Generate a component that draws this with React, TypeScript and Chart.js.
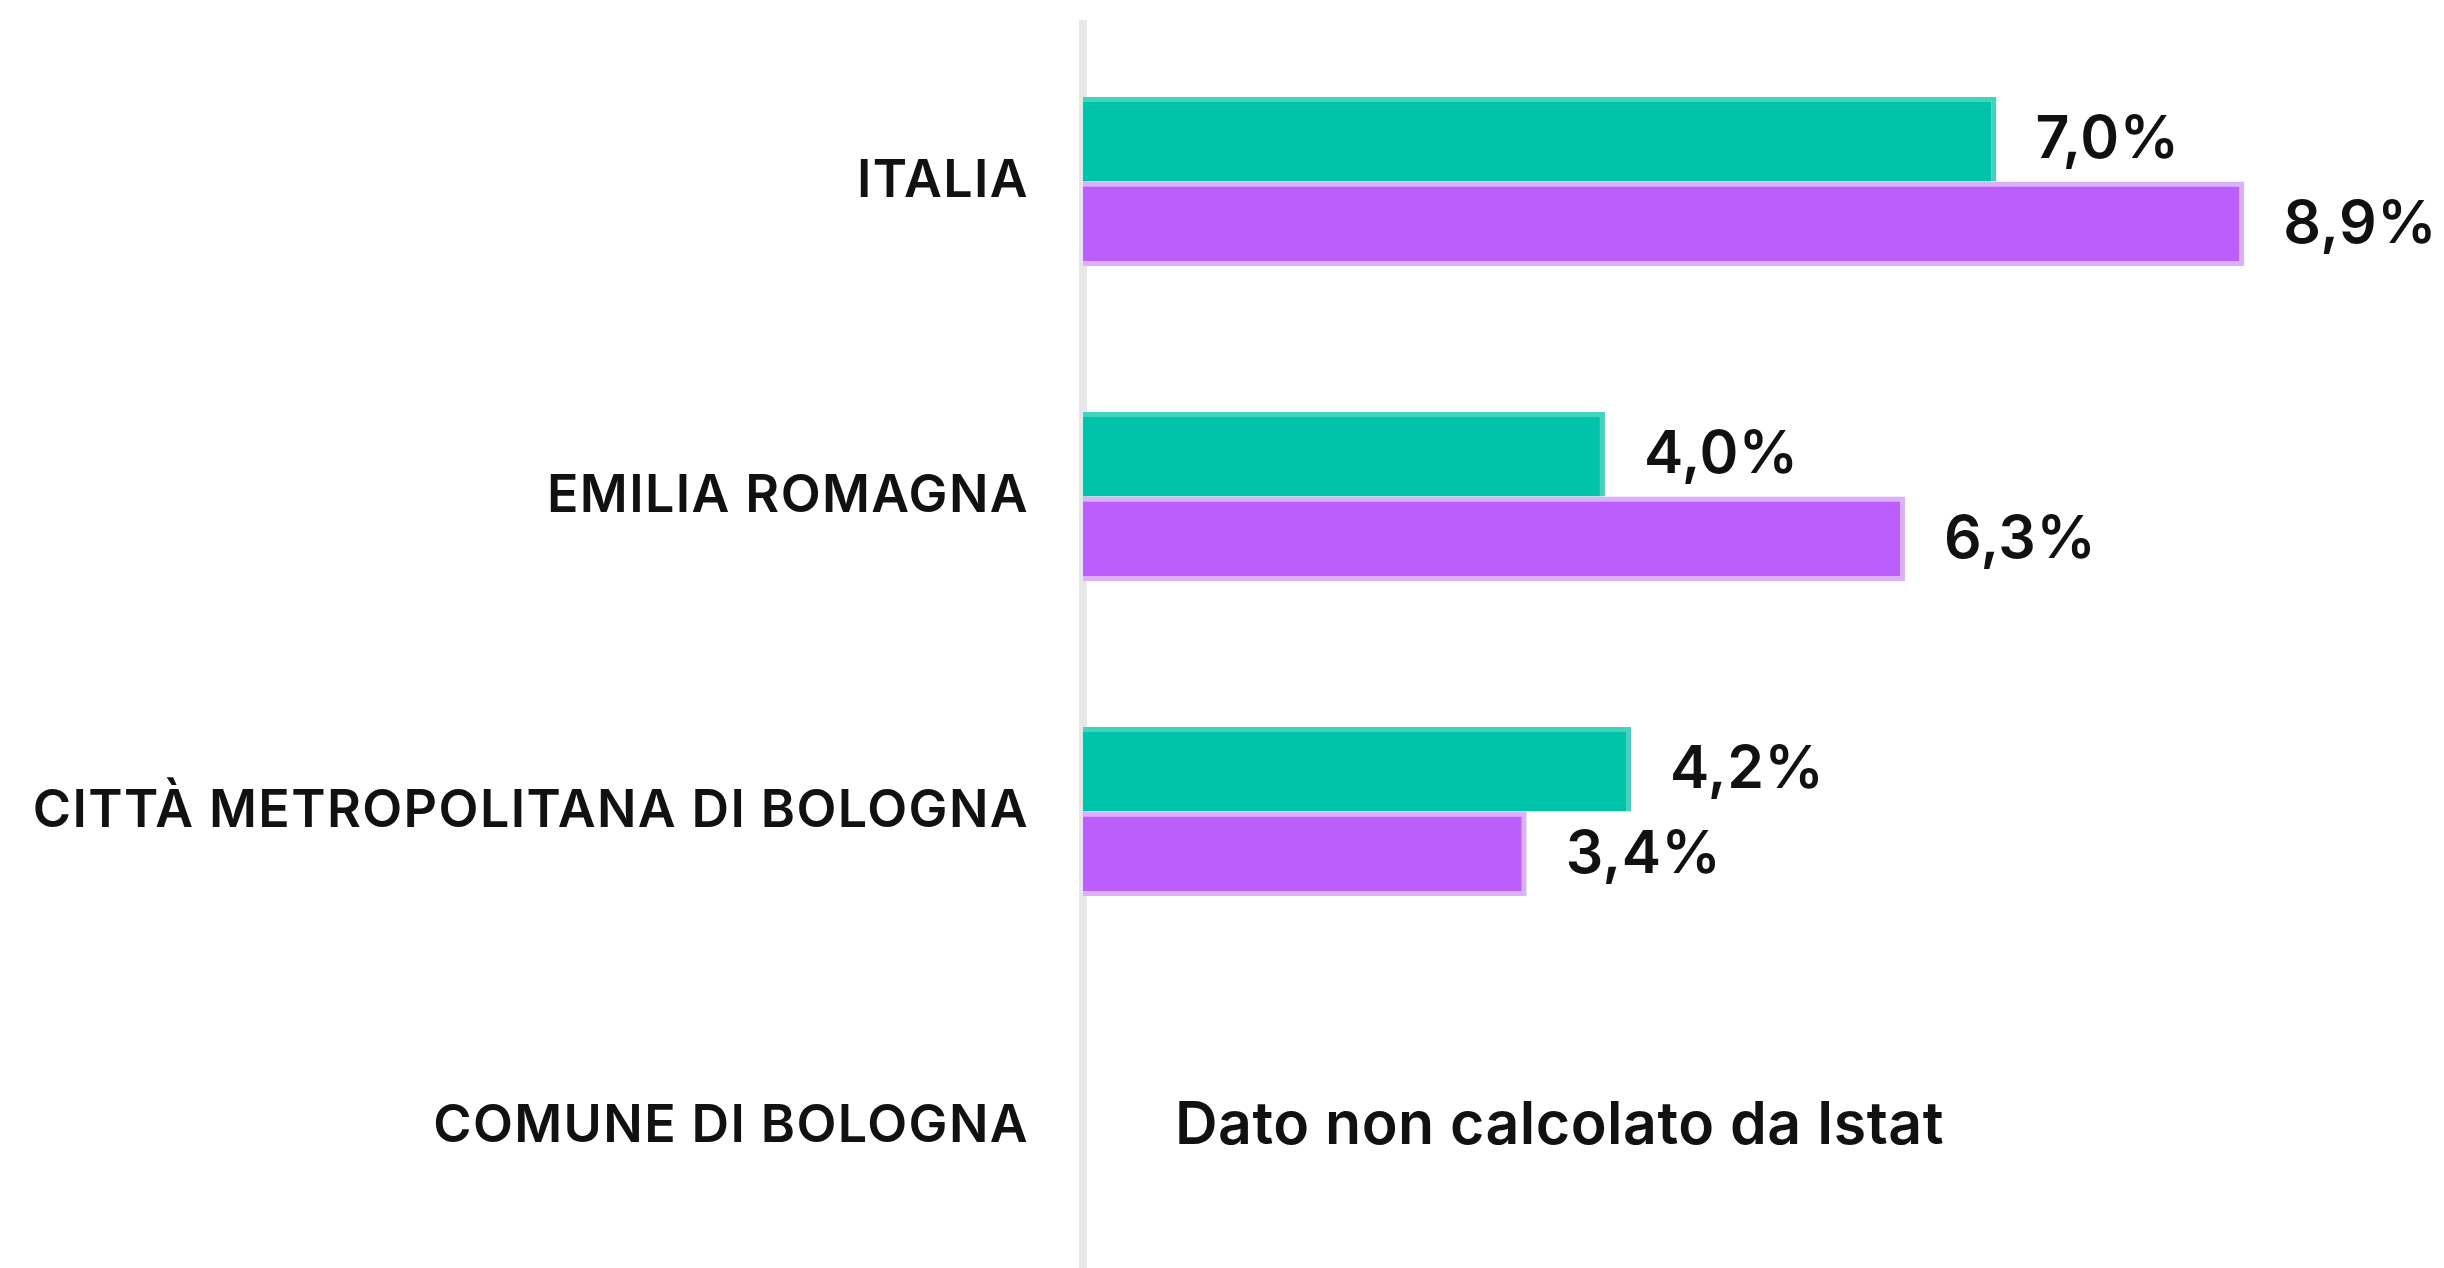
import React, { useEffect, useRef } from "react";
import { Chart, registerables } from "chart.js";

Chart.register(...registerables);

// ---- data ----
const categories = [
  "ITALIA",
  "EMILIA ROMAGNA",
  "CITTÀ METROPOLITANA DI BOLOGNA",
  "COMUNE DI BOLOGNA",
];
const seriesGreen: (number | null)[] = [7.0, 4.0, 4.2, null];
const seriesPurple: (number | null)[] = [8.9, 6.3, 3.4, null];
const missingNote = "Dato non calcolato da Istat";
const xMin = 0;
const xMax = 10.43;

const FONT = "Inter, 'Noto Sans', 'DejaVu Sans', sans-serif";
const fmt = (v: number) => v.toFixed(1).replace(".", ",") + "%";

const spacingPlugin = {
  id: "letterSpacing",
  beforeDraw(chart: any) {
    (chart.ctx as any).letterSpacing = "1.4px";
  },
};

const labelsPlugin = {
  id: "valueLabels",
  afterDatasetsDraw(chart: any) {
    const ctx = chart.ctx as CanvasRenderingContext2D;
    ctx.save();
    (ctx as any).letterSpacing = "0.5px";
    ctx.font = `600 59px ${FONT}`;
    ctx.fillStyle = "#111111";
    ctx.textBaseline = "middle";
    ctx.textAlign = "left";
    chart.data.datasets.forEach((ds: any, di: number) => {
      const meta = chart.getDatasetMeta(di);
      meta.data.forEach((bar: any, i: number) => {
        const v = ds.data[i];
        if (v == null) return;
        ctx.fillText(fmt(v), bar.x + 39, bar.y + 1);
      });
    });
    const xs = chart.scales.x;
    const ys = chart.scales.y;
    categories.forEach((_c, i) => {
      if (seriesGreen[i] == null && seriesPurple[i] == null) {
        ctx.fillText(missingNote, xs.getPixelForValue(xMin) + 92, ys.getPixelForValue(i));
      }
    });
    ctx.restore();
  },
};

export default function App() {
  const ref = useRef<HTMLCanvasElement | null>(null);
  useEffect(() => {
    document.body.style.margin = "0";
    document.body.style.overflow = "hidden";
    document.documentElement.style.overflow = "hidden";
    const canvas = ref.current!;
    const chart = new Chart(canvas, {
      type: "bar",
      data: {
        labels: categories,
        datasets: [
          {
            data: seriesGreen,
            backgroundColor: "#00C4AA",
            borderColor: "#40D4BF",
            borderWidth: { top: 5, right: 5, bottom: 0, left: 0 },
            borderSkipped: false,
          },
          {
            data: seriesPurple,
            backgroundColor: "#BB5EFB",
            borderColor: "#DCB0FC",
            borderWidth: { top: 5, right: 5, bottom: 5, left: 0 },
            borderSkipped: false,
          },
        ],
      },
      options: {
        indexAxis: "y",
        responsive: false,
        animation: false,
        layout: { padding: { top: 24, bottom: 4, left: 0, right: 0 } },
        plugins: {
          legend: { display: false },
          tooltip: { enabled: false },
        },
        datasets: {
          bar: { categoryPercentage: 0.537, barPercentage: 1 },
        },
        scales: {
          x: {
            display: false,
            min: xMin,
            max: xMax,
          },
          y: {
            grid: { display: false, drawTicks: false },
            border: { display: true, color: "#e7e7e7", width: 8 },
            ticks: {
              color: "#111111",
              padding: 54,
              font: { family: FONT, size: 52, weight: "600" },
            },
            afterFit: (scale: any) => {
              scale.width = 1083;
              scale.paddingTop = 0;
              scale.paddingBottom = 0;
            },
          },
        },
      },
      plugins: [spacingPlugin, labelsPlugin],
    } as any);
    return () => chart.destroy();
  }, []);
  return (
    <div style={{ width: 2444, height: 1268, overflow: "hidden", background: "#fff" }}>
      <canvas ref={ref} width={2444} height={1288} style={{ display: "block" }} />
    </div>
  );
}
